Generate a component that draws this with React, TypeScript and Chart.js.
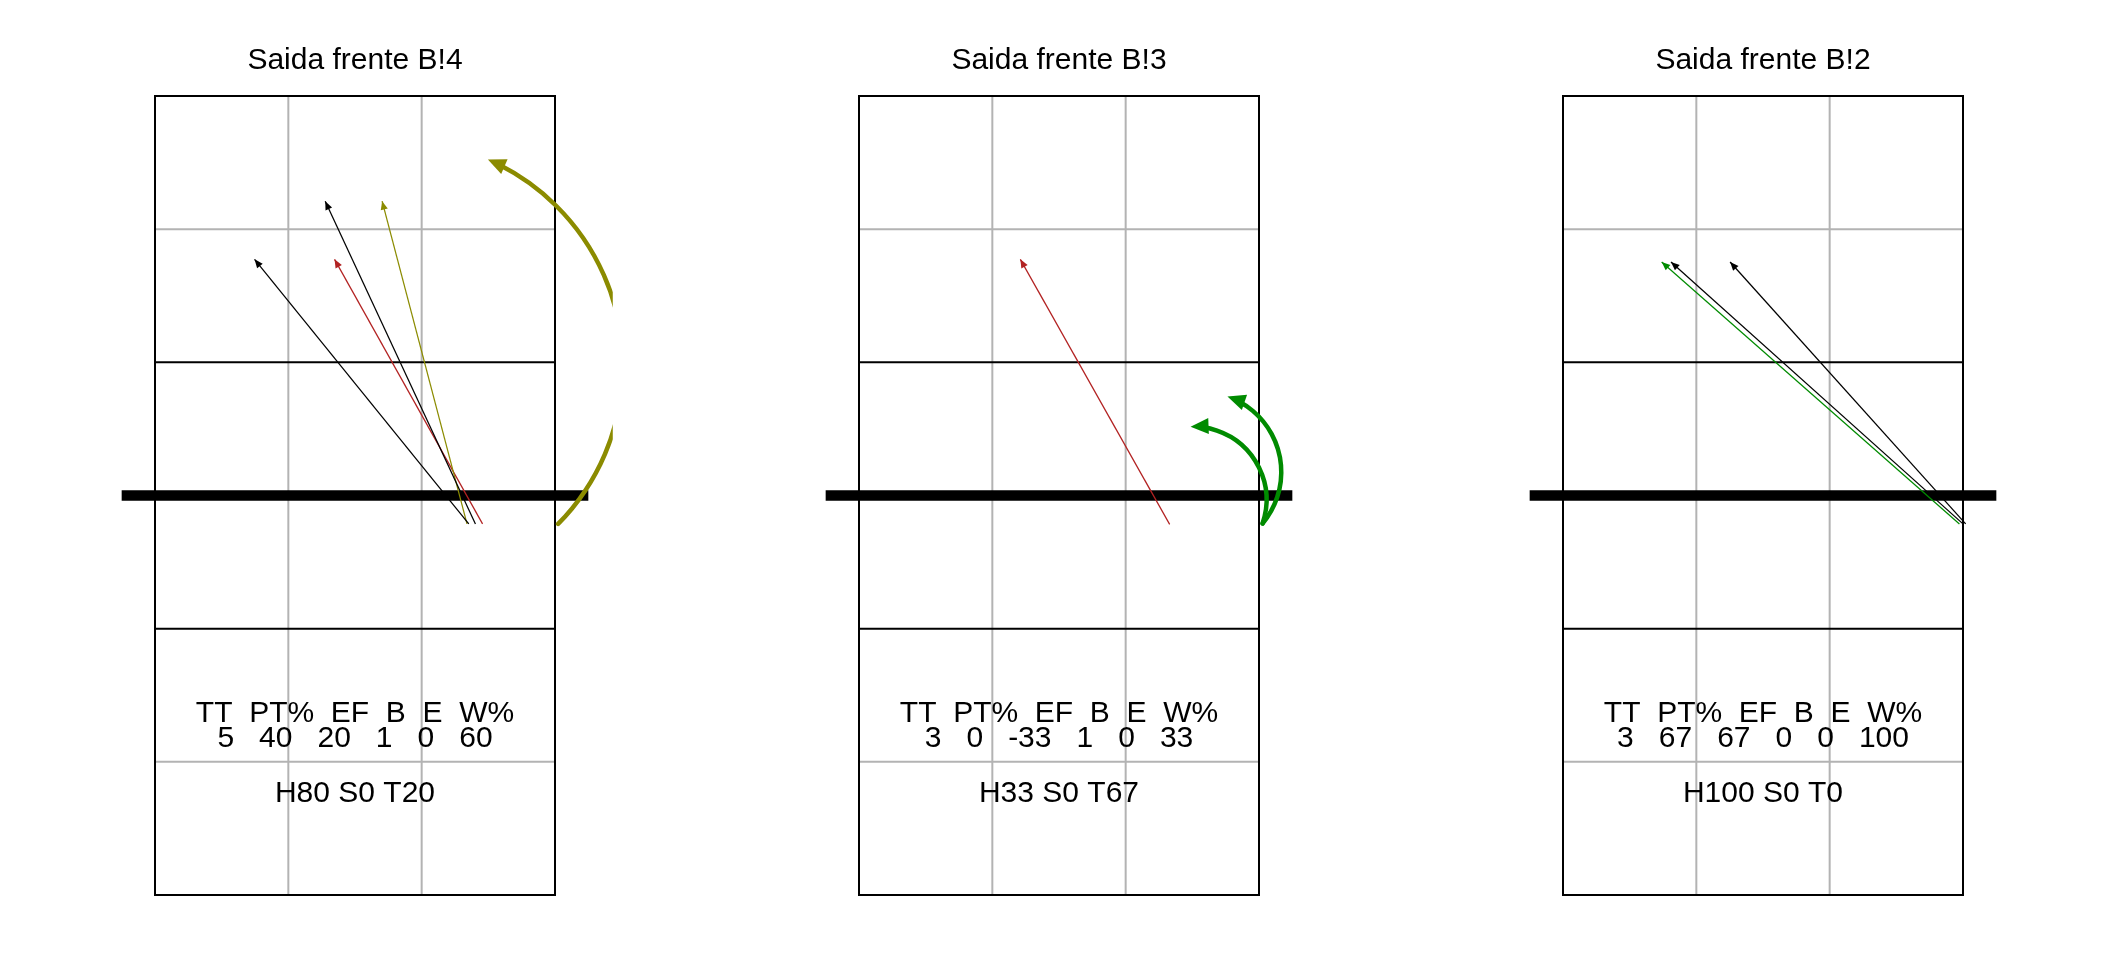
import React, { useEffect, useRef } from "react";
import { Chart, registerables } from "chart.js";

Chart.register(...registerables);

// ---------- data ----------
const panelTitles = ["Saida frente B!4", "Saida frente B!3", "Saida frente B!2"];

const statHeader = "TT  PT%  EF  B  E  W%";
const statTT = [5, 3, 3];
const statPT = [40, 0, 67];
const statEF = [20, -33, 67];
const statB = [1, 1, 0];
const statE = [0, 0, 0];
const statW = [60, 33, 100];
const zoneH = [80, 33, 100];
const zoneS = [0, 0, 0];
const zoneT = [20, 67, 0];

// straight attack arrows (court metres: x across 0..9, y along 0..18)
const arrowPanel = [0, 0, 0, 0, 1, 2, 2, 2];
const arrowX0 = [7.06, 7.21, 7.02, 7.37, 6.99, 8.92, 9.0, 9.06];
const arrowY0 = [8.36, 8.36, 8.36, 8.36, 8.35, 8.36, 8.36, 8.36];
const arrowX1 = [2.24, 3.83, 5.11, 4.04, 3.63, 2.22, 2.43, 3.76];
const arrowY1 = [14.32, 15.63, 15.63, 14.32, 14.32, 14.26, 14.26, 14.26];
const arrowKind = ["black", "black", "olive", "red", "red", "green", "black", "black"];

// curved arrows
const curvePanel = [0, 1, 1];
const curveX0 = [9.07, 9.08, 9.08];
const curveY0 = [8.36, 8.37, 8.37];
const curveX1 = [7.49, 8.29, 7.46];
const curveY1 = [16.57, 11.23, 10.55];
const curveKind = ["olive", "green", "green"];

// ---------- styles / geometry constants ----------
const COLORS: Record<string, string> = {
  black: "#000000",
  red: "#B22222",
  olive: "#8B8B00",
  green: "#008B00",
};
const COURT_W = 9;
const COURT_L = 18;
const NET_Y = 9;
const NET_EXT = 0.75;
const CLIP_X = 10.3;
const ARC_SWEEP_DEG = 111;
const FONT = "30px 'Liberation Sans', Arial, Helvetica, sans-serif";
const TEXT_Y = [3.9, 3.34, 2.1];
const PANEL_W = 704;
const PANEL_H = 960;

function drawHead(ctx: CanvasRenderingContext2D, tx: number, ty: number, ux: number, uy: number, len: number, half: number, color: string) {
  const bx = tx - ux * len;
  const by = ty - uy * len;
  const nx = -uy;
  const ny = ux;
  ctx.beginPath();
  ctx.moveTo(tx, ty);
  ctx.lineTo(bx + nx * half, by + ny * half);
  ctx.lineTo(bx - nx * half, by - ny * half);
  ctx.closePath();
  ctx.fillStyle = color;
  ctx.fill();
}

const courtPlugin = {
  id: "court",
  beforeDatasetsDraw(chart: any) {
    const { ctx, scales } = chart;
    const px = (v: number) => scales.x.getPixelForValue(v);
    const py = (v: number) => scales.y.getPixelForValue(v);
    const line = (x0: number, y0: number, x1: number, y1: number) => {
      ctx.beginPath();
      ctx.moveTo(x0, y0);
      ctx.lineTo(x1, y1);
      ctx.stroke();
    };
    ctx.save();
    ctx.lineCap = "butt";
    ctx.lineWidth = 2;
    ctx.strokeStyle = "#B3B3B3";
    for (const gx of [3, 6]) line(px(gx), py(0), px(gx), py(COURT_L));
    for (const gy of [3, 15]) line(px(0), py(gy), px(COURT_W), py(gy));
    ctx.strokeStyle = "#000000";
    for (const gy of [6, 12]) line(px(0), py(gy), px(COURT_W), py(gy));
    ctx.strokeRect(px(0), py(COURT_L), px(COURT_W) - px(0), py(0) - py(COURT_L));
    ctx.lineWidth = 10.5;
    line(px(-NET_EXT), py(NET_Y), px(COURT_W + NET_EXT), py(NET_Y));
    ctx.restore();
  },
  afterDatasetsDraw(chart: any, _args: any, opts: any) {
    const { ctx, scales, chartArea } = chart;
    const px = (v: number) => scales.x.getPixelForValue(v);
    const py = (v: number) => scales.y.getPixelForValue(v);
    const panel = opts.panel as number;

    // arrowheads for straight arrows
    arrowPanel.forEach((p, i) => {
      if (p !== panel) return;
      const x0 = px(arrowX0[i]), y0 = py(arrowY0[i]);
      const x1 = px(arrowX1[i]), y1 = py(arrowY1[i]);
      const L = Math.hypot(x1 - x0, y1 - y0);
      drawHead(ctx, x1, y1, (x1 - x0) / L, (y1 - y0) / L, 8.5, 3.6, COLORS[arrowKind[i]]);
    });

    // curved arrows
    ctx.save();
    ctx.beginPath();
    ctx.rect(0, 0, px(CLIP_X), chart.height);
    ctx.clip();
    const theta = (ARC_SWEEP_DEG * Math.PI) / 180;
    curvePanel.forEach((p, i) => {
      if (p !== panel) return;
      const sx = px(curveX0[i]), sy = py(curveY0[i]);
      const ex = px(curveX1[i]), ey = py(curveY1[i]);
      const dx = ex - sx, dy = ey - sy;
      const L = Math.hypot(dx, dy);
      const R = L / (2 * Math.sin(theta / 2));
      const h = R * Math.cos(theta / 2);
      const mx = (sx + ex) / 2, my = (sy + ey) / 2;
      const cx = mx + (dy / L) * h;
      const cy = my + (-dx / L) * h;
      const a1 = Math.atan2(sy - cy, sx - cx);
      const a2 = Math.atan2(ey - cy, ex - cx);
      const headLen = 18;
      const color = COLORS[curveKind[i]];
      ctx.beginPath();
      ctx.arc(cx, cy, R, a1, a2 + (headLen * 0.7) / R, true);
      ctx.strokeStyle = color;
      ctx.lineWidth = 4.5;
      ctx.lineCap = "round";
      ctx.stroke();
      drawHead(ctx, ex, ey, Math.sin(a2), -Math.cos(a2), headLen, 8, color);
    });
    ctx.restore();

    // texts
    ctx.save();
    ctx.fillStyle = "#000000";
    ctx.font = FONT;
    ctx.textAlign = "center";
    ctx.textBaseline = "alphabetic";
    const cxText = (px(0) + px(COURT_W)) / 2;
    ctx.fillText(panelTitles[panel], cxText, chartArea.top - 27);
    const values = [statTT[panel], statPT[panel], statEF[panel], statB[panel], statE[panel], statW[panel]].join("   ");
    ctx.fillText(statHeader, cxText, py(TEXT_Y[0]));
    ctx.fillText(values, cxText, py(TEXT_Y[1]));
    ctx.fillText(`H${zoneH[panel]} S${zoneS[panel]} T${zoneT[panel]}`, cxText, py(TEXT_Y[2]));
    ctx.restore();
  },
};

function Panel({ panel }: { panel: number }) {
  const ref = useRef<HTMLCanvasElement | null>(null);
  useEffect(() => {
    if (!ref.current) return;
    const datasets = arrowPanel
      .map((p, i) => ({ p, i }))
      .filter((d) => d.p === panel)
      .map(({ i }) => ({
        data: [
          { x: arrowX0[i], y: arrowY0[i] },
          { x: arrowX1[i], y: arrowY1[i] },
        ],
        showLine: true,
        borderColor: COLORS[arrowKind[i]],
        backgroundColor: COLORS[arrowKind[i]],
        borderWidth: 1.25,
        pointRadius: 0,
        clip: false as any,
      }));
    const chart = new Chart(ref.current, {
      type: "scatter",
      data: { datasets },
      options: {
        animation: false,
        responsive: false,
        devicePixelRatio: 1,
        events: [],
        layout: { padding: { left: 155, right: 149, top: 96, bottom: 65 } },
        scales: {
          x: { type: "linear", min: 0, max: COURT_W, display: false },
          y: { type: "linear", min: 0, max: COURT_L, display: false },
        },
        plugins: {
          legend: { display: false },
          tooltip: { enabled: false },
          title: { display: false },
          court: { panel },
        } as any,
      },
      plugins: [courtPlugin],
    });
    return () => chart.destroy();
  }, [panel]);
  return (
    <canvas
      ref={ref}
      width={PANEL_W}
      height={PANEL_H}
      style={{ width: PANEL_W, height: PANEL_H, display: "block" }}
    />
  );
}

export default function App() {
  useEffect(() => {
    document.body.style.margin = "0";
    document.body.style.background = "#ffffff";
  }, []);
  return (
    <div style={{ display: "flex", width: PANEL_W * 3, height: PANEL_H, background: "#ffffff" }}>
      {panelTitles.map((_, i) => (
        <Panel key={i} panel={i} />
      ))}
    </div>
  );
}
